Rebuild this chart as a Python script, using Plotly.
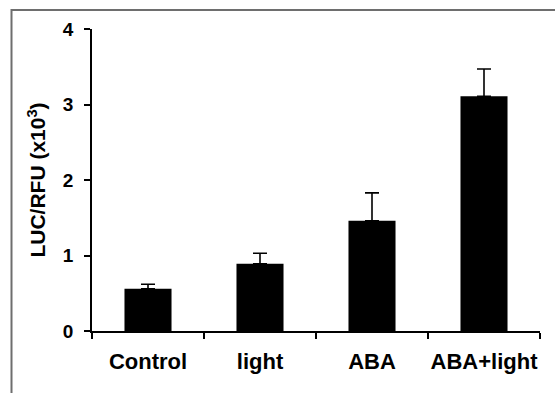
import plotly.graph_objects as go

# Luciferase activity normalised to RFU, per treatment
categories = ["Control", "light", "ABA", "ABA+light"]
means = [0.56, 0.89, 1.46, 3.11]
errors_up = [0.06, 0.14, 0.37, 0.36]
y_ticks = [0, 1, 2, 3, 4]

W, H = 555, 393
ml, mr, mt, mb = 92, 15, 29, 62
pw, ph = W - ml - mr, H - mt - mb

def px_x(p):
    return (p - ml) / pw

def px_y(p):
    return (H - mb - p) / ph

fig = go.Figure()
fig.add_trace(go.Bar(
    x=categories,
    y=means,
    width=0.42,
    marker=dict(color="black", line=dict(color="black", width=0)),
    error_y=dict(
        type="data",
        symmetric=False,
        array=errors_up,
        arrayminus=[0] * len(errors_up),
        color="black",
        thickness=1.6,
        width=7,
    ),
    showlegend=False,
))

font_main = dict(family="Liberation Sans, Arial, sans-serif", color="black")

fig.update_layout(
    width=W,
    height=H,
    margin=dict(l=ml, r=mr, t=mt, b=mb, pad=0, autoexpand=False),
    paper_bgcolor="white",
    plot_bgcolor="white",
    xaxis=dict(
        type="category",
        tickvals=categories,
        ticktext=[f"<b>{c}</b>" for c in categories],
        tickangle=0,
        automargin=False,
        showline=True,
        linecolor="black",
        linewidth=1.6,
        ticks="outside",
        tickson="boundaries",
        ticklen=6,
        tickwidth=1.6,
        tickcolor="black",
        showgrid=False,
        tickfont=dict(size=22, **font_main),
        ticklabelstandoff=10,
    ),
    yaxis=dict(
        range=[0, 4],
        automargin=False,
        tickvals=y_ticks,
        ticktext=[f"<b>{v}</b>" for v in y_ticks],
        showline=True,
        linecolor="black",
        linewidth=1.6,
        ticks="outside",
        ticklen=6,
        tickwidth=1.6,
        tickcolor="black",
        showgrid=False,
        zeroline=False,
        tickfont=dict(size=19, **font_main),
        ticklabelstandoff=7,
        title=dict(
            text="<b>LUC/RFU (x10<sup>3</sup>)</b>",
            font=dict(size=21, **font_main),
            standoff=11,
        ),
    ),
)

# Outer grey frame around the figure
fig.add_shape(
    type="rect",
    xref="paper", yref="paper",
    x0=px_x(11.5), x1=px_x(570),
    y0=px_y(410), y1=px_y(10),
    line=dict(color="#6e6e6e", width=2),
    fillcolor="rgba(0,0,0,0)",
    layer="below",
)

fig.write_html("out.html")
